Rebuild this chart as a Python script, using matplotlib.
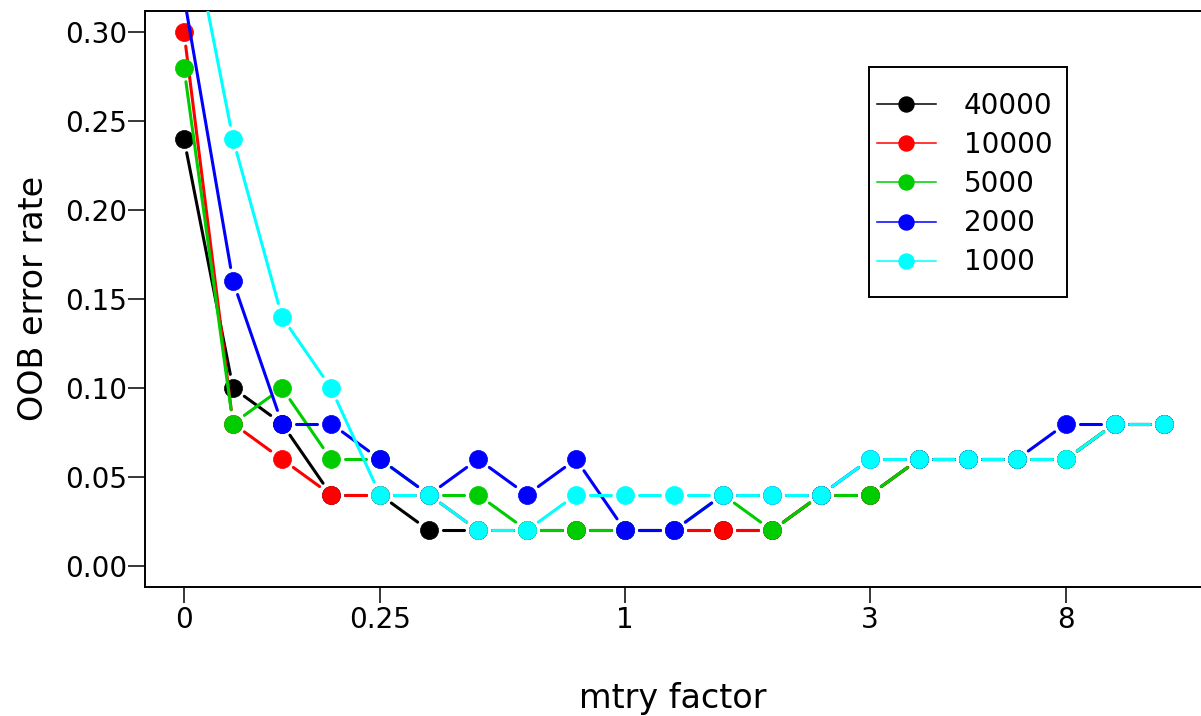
import numpy as np
import matplotlib
matplotlib.use('Agg')
import matplotlib.pyplot as plt
from matplotlib.collections import LineCollection
from matplotlib.lines import Line2D
from matplotlib.patches import Rectangle

# mtry factor steps are drawn at equally spaced positions
steps = np.arange(21)
tick_pos = [0, 4, 9, 14, 18]
tick_labels = ['0', '0.25', '1', '3', '8']

ntree = ['40000', '10000', '5000', '2000', '1000']
colors = ['black', '#FF0000', '#00CD00', '#0000FF', '#00FFFF']

err_40000 = [0.24, 0.10, 0.08, 0.04, 0.04, 0.02, 0.02, 0.02, 0.02, 0.02, 0.02,
             0.02, 0.02, 0.04, 0.04, 0.06, 0.06, 0.06, 0.06, 0.08, 0.08]
err_10000 = [0.30, 0.08, 0.06, 0.04, 0.04, 0.04, 0.02, 0.02, 0.02, 0.02, 0.02,
             0.02, 0.02, 0.04, 0.04, 0.06, 0.06, 0.06, 0.06, 0.08, 0.08]
err_5000 = [0.28, 0.08, 0.10, 0.06, 0.06, 0.04, 0.04, 0.02, 0.02, 0.02, 0.02,
            0.04, 0.02, 0.04, 0.04, 0.06, 0.06, 0.06, 0.06, 0.08, 0.08]
err_2000 = [0.32, 0.16, 0.08, 0.08, 0.06, 0.04, 0.06, 0.04, 0.06, 0.02, 0.02,
            0.04, 0.04, 0.04, 0.06, 0.06, 0.06, 0.06, 0.08, 0.08, 0.08]
err_1000 = [0.38, 0.24, 0.14, 0.10, 0.04, 0.04, 0.02, 0.02, 0.04, 0.04, 0.04,
            0.04, 0.04, 0.04, 0.06, 0.06, 0.06, 0.06, 0.06, 0.08, 0.08]
series = [err_40000, err_10000, err_5000, err_2000, err_1000]

W, H = 1201, 716
fig = plt.figure(figsize=(W / 100, H / 100), dpi=100)
ax = fig.add_axes([144.8 / W, 1 - 587.3 / H, (1203.2 - 144.8) / W, (587.3 - 10.9) / H])
ax.set_xlim(-0.8, 20.8)
ax.set_ylim(-0.012, 0.312)


def gapped_segments(x, y, gap=14):
    """R type='b' style: segments between points, shortened at both ends (gap in px)."""
    pts = ax.transData.transform(np.column_stack([x, y]))
    segs = []
    for p, q in zip(pts[:-1], pts[1:]):
        d = q - p
        L = np.hypot(*d)
        if L <= 2 * gap:
            continue
        u = d / L
        a = ax.transData.inverted().transform(p + u * gap)
        b = ax.transData.inverted().transform(q - u * gap)
        segs.append([a, b])
    return segs


for i, (vals, col) in enumerate(zip(series, colors)):
    lc = LineCollection(gapped_segments(steps, vals), colors=col, linewidths=2.2,
                        capstyle='round', zorder=3 + i)
    ax.add_collection(lc)
    ax.plot(steps, vals, 'o', color=col, markersize=13, markeredgewidth=0.5,
            zorder=3 + i)

# axes styling
for s in ['left', 'bottom', 'top']:
    ax.spines[s].set_linewidth(1.4)
ax.spines['right'].set_visible(False)

ax.set_xticks(tick_pos)
ax.set_xticklabels(tick_labels)
ax.set_yticks(np.arange(0, 0.31, 0.05))
ax.set_yticklabels(['%.2f' % v for v in np.arange(0, 0.31, 0.05)])
ax.tick_params(axis='y', length=12.2, width=1.1, pad=0.7, labelsize=20)
ax.tick_params(axis='x', length=11.5, width=1.1, pad=2, labelsize=20)

fig.text(673 / W, 1 - 708 / H, 'mtry factor', fontsize=24, ha='center', va='baseline')
fig.text(43 / W, 1 - 298 / H, 'OOB error rate', fontsize=24, rotation=90,
         rotation_mode='anchor', ha='center', va='baseline')

# legend
handles = [Line2D([], [], color=c, lw=1.1, marker='o', markersize=10.8) for c in colors]
fig.legend(handles, ntree, loc='upper left', bbox_to_anchor=(877 / W, 1 - 92 / H),
           frameon=False, fontsize=20, handlelength=2.12, handletextpad=1.0,
           labelspacing=0.4, borderpad=0, borderaxespad=0)
fig.patches.append(Rectangle((869 / W, 1 - 297 / H), 198 / W, 230 / H, fill=False,
                             lw=1.4, edgecolor='black', transform=fig.transFigure))

fig.savefig('out.png', dpi=100)
